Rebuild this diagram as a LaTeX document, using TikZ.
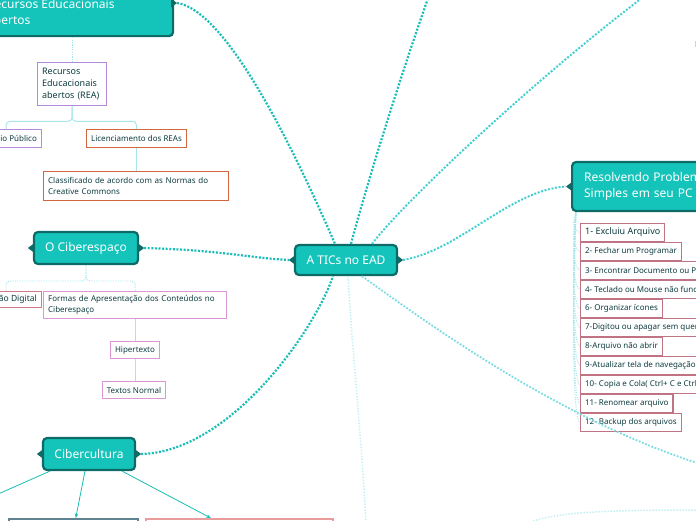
\documentclass[tikz,border=0pt]{standalone}
\usepackage{fontspec}
\setmainfont{Noto Sans}
\usetikzlibrary{arrows.meta}
\definecolor{tealfill}{HTML}{14C4BA}
\definecolor{tealdark}{HTML}{0E6A66}
\definecolor{dotdark}{HTML}{17BDB6}
\definecolor{dotmid}{HTML}{45CFD2}
\definecolor{dotpale}{HTML}{7ADCE3}
\definecolor{dotlight}{HTML}{A6E6EA}
\definecolor{dotfaint}{HTML}{C4F0F3}
\definecolor{txt}{HTML}{0E3C40}
\definecolor{purp}{HTML}{B68AD9}
\definecolor{orng}{HTML}{D2663F}
\definecolor{pinkb}{HTML}{DE97D6}
\definecolor{redp}{HTML}{D47A8B}
\definecolor{rose}{HTML}{C07382}
\definecolor{slate}{HTML}{5F8490}
\definecolor{salmon}{HTML}{E89C9C}
\definecolor{paleblue}{HTML}{C5D3F5}
\newcommand{\topicnotch}[1]{%
  \fill[tealdark] ([xshift=1pt]#1.west) ++(0,-4.5) -- ++(-6,4.5) -- ++(6,4.5) -- cycle;
  \fill[tealdark] ([xshift=-1pt]#1.east) ++(0,-4.5) -- ++(6,4.5) -- ++(-6,4.5) -- cycle;}
\tikzset{
  topic/.style={draw=tealdark, fill=tealfill, line width=2.2pt, rounded corners=4pt, text=white,
    font=\fontsize{12}{16}\selectfont, inner sep=0pt},
  leaf/.style={draw, line width=1.3pt, fill=white, text=txt, font=\fontsize{8}{11}\selectfont,
    inner xsep=4.5pt, inner ysep=0pt, minimum height=18pt, anchor=north west, align=left},
  bigdot/.style={dotdark, line width=2.2pt, dash pattern=on 2pt off 1.6pt},
  middot/.style={dotmid, line width=2pt, dash pattern=on 2pt off 1.6pt},
  paledot/.style={dotpale, line width=1.8pt, dash pattern=on 1.8pt off 1.6pt},
  faintdot/.style={dotfaint, line width=1.5pt, dash pattern=on 1.5pt off 1.5pt},
  thindot/.style={dotlight, line width=0.9pt, dash pattern=on 1.2pt off 1.2pt},
  thinline/.style={dotlight, line width=1pt},
  arr/.style={dotdark, line width=0.8pt, -{Stealth[length=4.5pt,width=3.5pt]}},
}
\begin{document}
\begin{tikzpicture}[x=1pt, y=-1pt]
\useasboundingbox (0,0) rectangle (696,520);

% ---------- main topics ----------
\node[topic, minimum width=102pt, minimum height=30pt] (c) at (346,260) {A TICs no EAD};
\node[topic, anchor=north west, minimum width=191pt, minimum height=64pt] (rea) at (-19,-29) {};
\node[text=white, font=\fontsize{12}{16}\selectfont, anchor=base west, align=left, inner sep=0pt] (reat) at (-13,24) {Recursos Educacionais\\abertos};
\node[topic, anchor=west, minimum height=49pt, text width=180pt, align=left, inner xsep=12pt] (res) at (571,186.5) {Resolvendo Problemas\\Simples em seu PC};
\node[topic, minimum width=104pt, minimum height=32pt] (cs) at (86,248) {O Ciberespaço};
\node[topic, minimum width=92pt, minimum height=32pt] (cc) at (89,454) {Cibercultura};
\topicnotch{c}
\topicnotch{res}
\topicnotch{cs}
\topicnotch{cc}
\fill[tealdark] (171,-1.5) -- (177,3) -- (171,7.5) -- cycle;
\coordinate (reaN) at (177,3);

% ---------- REA branch ----------
\node[leaf, draw=purp, text width=60pt, minimum height=43pt, font=\fontsize{9}{12}\selectfont] (rea1) at (37,62) {Recursos\\Educacionais\\abertos (REA)};
\node[leaf, draw=purp, anchor=north east] (dp) at (42,129) {Domínio Público};
\node[leaf, draw=orng] (lic) at (86,129) {Licenciamento dos REAs};
\node[leaf, draw=orng, text width=176pt, minimum height=29pt] (cls) at (43,171) {Classificado de acordo com as Normas do\\Creative Commons};

\draw[thindot] (rea.south -| rea1.north) -- (rea1.north);
\draw[thinline, rounded corners=4pt] (rea1.south) -- ++(0,15) -| (lic.north);
\draw[thinline, rounded corners=4pt] (rea1.south) -- ++(0,15) -| (dp.north);
\draw[thinline] (lic.south) -- (lic.south |- cls.north);

% ---------- Ciberespaco branch ----------
\node[leaf, draw=redp, anchor=north east, minimum height=16pt, font=\fontsize{8.5}{11}\selectfont] (inc) at (42,291) {Inclusão Digital};
\node[leaf, draw=pinkb, text width=174pt, minimum height=27pt] (fo) at (43,291) {Formas de Apresentação dos Conteúdos no\\Ciberespaço};
\node[leaf, draw=pinkb, anchor=north, minimum height=17pt] (hip) at (135,341) {Hipertexto};
\node[leaf, draw=pinkb, anchor=north, minimum height=17pt] (txn) at (134,381) {Textos Normal};

\draw[thindot, rounded corners=4pt] (cs.south) -- (cs.south |- 0,281) -| (fo.north);
\draw[thindot, rounded corners=4pt] (cs.south) -- (cs.south |- 0,281) -| (inc.north);
\draw[thinline] (fo.south) -- (fo.south |- hip.north);
\draw[thinline] (hip.south) -- (hip.south |- txn.north);

% ---------- Cibercultura branch ----------
\node[draw=slate, line width=1.5pt, anchor=north west, minimum width=129pt, minimum height=30pt] (b1) at (8,518) {};
\node[draw=salmon, line width=1.5pt, anchor=north west, minimum width=187pt, minimum height=30pt] (b2) at (145,518) {};
\coordinate (offL) at (-20,502);
\draw[arr] ([xshift=-39pt]cc.south) -- (offL);
\draw[arr] ([xshift=-4pt]cc.south) -- ([xshift=2.5pt]b1.north);
\draw[arr] ([xshift=33pt]cc.south) -- ([xshift=-28.5pt]b2.north);

% ---------- Resolvendo list ----------
\node[leaf, draw=rose, font=\fontsize{9}{11}\selectfont] (r1) at (580,223) {1- Excluiu Arquivo};
\node[leaf, draw=rose] (r2) at (580,242) {2- Fechar um Programar};
\node[leaf, draw=rose] (r3) at (580,261) {3- Encontrar Documento ou Pasta};
\node[leaf, draw=rose] (r4) at (580,280) {4- Teclado ou Mouse não funciona};
\node[leaf, draw=rose] (r5) at (580,299) {6- Organizar ícones};
\node[leaf, draw=rose] (r6) at (580,318) {7-Digitou ou apagar sem querer};
\node[leaf, draw=rose] (r7) at (580,337) {8-Arquivo não abrir};
\node[leaf, draw=rose] (r8) at (580,356) {9-Atualizar tela de navegação};
\node[leaf, draw=rose] (r9) at (580,375) {10- Copia e Cola( Ctrl+ C e Ctrl+ V)};
\node[leaf, draw=rose] (r10) at (580,394) {11- Renomear arquivo};
\node[leaf, draw=rose] (r11) at (580,413) {12- Backup dos arquivos};
\foreach \n/\d in {1/21,2/40,3/59,4/78,5/97,6/116,7/135,8/154,9/173,10/192,11/211}
  \draw[thindot] ([xshift=5pt]res.south west) .. controls +(-4,0.55*\d) and +(-7,-3) .. (r\n.west);

% ---------- main connectors ----------
\coordinate (aTop) at (440,-35);
\coordinate (bTop) at (680,-30);
\coordinate (brEnd) at (720,470);
\coordinate (vEnd) at (366,525);
\coordinate (fS) at (520,528);
\coordinate (fE) at (700,510);
\draw[bigdot] (reaN) .. controls (225,10) and (290,140) .. ([xshift=-11pt]c.north);
\draw[bigdot] ([xshift=5pt]c.north) .. controls (365,190) and (405,60) .. (aTop);
\draw[middot] ([xshift=26pt]c.north) .. controls (405,200) and (560,55) .. (bTop);
\draw[bigdot] ([xshift=5pt]cs.east) .. controls (220,250) and (250,258) .. ([xshift=-5pt]c.west);
\draw[middot] ([xshift=5pt]c.east) .. controls (460,250) and (510,190) .. ([xshift=-5pt]res.west);
\draw[bigdot] ([xshift=5pt]cc.east) .. controls (230,452) and (315,330) .. ([xshift=-13pt]c.south);
\draw[paledot] ([xshift=16pt]c.south) .. controls (450,340) and (580,430) .. (brEnd);
\draw[faintdot] ([xshift=2pt]c.south) .. controls (352,350) and (362,440) .. (vEnd);
\draw[faintdot] (fS) .. controls (540,512) and (600,510) .. (fE);
\fill[paleblue] (694.5,41) rectangle (697,47);
\end{tikzpicture}
\end{document}
